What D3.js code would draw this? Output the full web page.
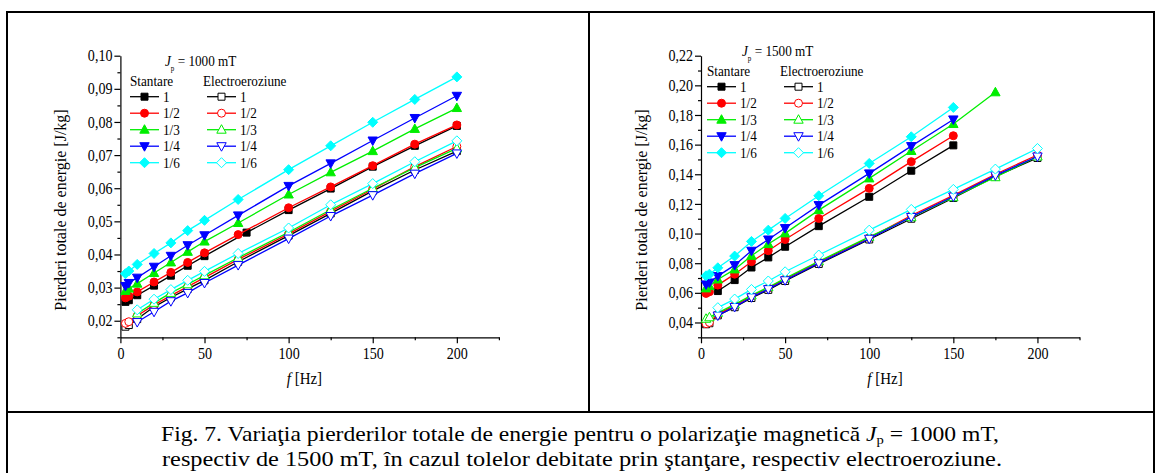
<!DOCTYPE html>
<html>
<head>
<meta charset="utf-8">
<title></title>
<style>
body { margin: 0; background: #fff; }
text { font-family: "Liberation Serif", "Times New Roman", serif; fill: #000; }
.axis path, .axis line { stroke: #000; stroke-width: 1.2px; }
.axis text { font-family: "Liberation Serif", serif; font-size: 16px; }
</style>
</head>
<body>
<script src="https://cdn.jsdelivr.net/npm/d3@7"></script>
<script>

// ---- data ----
var seriesNames = ["1", "1/2", "1/3", "1/4", "1/6"];
var seriesColors = ["#000000", "#ff0000", "#00ee00", "#0000ff", "#00ffff"];
var seriesShapes = ["square", "circle", "triangle", "triangleDown", "diamond"];

// Jp = 1000 mT
var fA = [3, 5, 10, 20, 30, 40, 50, 70, 100, 125, 150, 175, 200];
var fA75 = [3, 5, 10, 20, 30, 40, 50, 75, 100, 125, 150, 175, 200];
var fA10 = [10, 20, 30, 40, 50, 70, 100, 125, 150, 175, 200];

var st1000_1 = [0.0257, 0.0262, 0.0277, 0.0306, 0.0336, 0.0366, 0.0395, 0.0466, 0.0534, 0.0599, 0.0665, 0.0728, 0.0788];
var st1000_2 = [0.0269, 0.0274, 0.0287, 0.0317, 0.0346, 0.0376, 0.0405, 0.0460, 0.0541, 0.0604, 0.0668, 0.0733, 0.0791];
var st1000_3 = [0.0290, 0.0297, 0.0312, 0.0344, 0.0376, 0.0408, 0.0439, 0.0495, 0.0581, 0.0648, 0.0712, 0.0779, 0.0842];
var st1000_4 = [0.0305, 0.0314, 0.0330, 0.0363, 0.0396, 0.0428, 0.0458, 0.0518, 0.0607, 0.0675, 0.0744, 0.0812, 0.0879];
var st1000_6 = [0.0342, 0.0350, 0.0370, 0.0403, 0.0435, 0.0472, 0.0503, 0.0566, 0.0656, 0.0728, 0.0799, 0.0868, 0.0936];

var el1000_1 = [0.0182, 0.0187, 0.0205, 0.0242, 0.0270, 0.0296, 0.0322, 0.0378, 0.0457, 0.0524, 0.0592, 0.0655, 0.0712];
var el1000_2 = [0.0192, 0.0197, 0.0215, 0.0248, 0.0276, 0.0303, 0.0330, 0.0385, 0.0462, 0.0530, 0.0597, 0.0665, 0.0726];
var el1000_3 = [0.0222, 0.0254, 0.0284, 0.0310, 0.0337, 0.0390, 0.0467, 0.0535, 0.0600, 0.0662, 0.0720];
var el1000_4 = [0.0196, 0.0227, 0.0259, 0.0284, 0.0314, 0.0368, 0.0448, 0.0516, 0.0579, 0.0644, 0.0705];
var el1000_6 = [0.0233, 0.0265, 0.0294, 0.0322, 0.0349, 0.0403, 0.0480, 0.0550, 0.0614, 0.0680, 0.0743];

// Jp = 1500 mT
var fB = [3, 5, 10, 20, 30, 40, 50, 70, 100, 125, 150];
var fB10 = [10, 20, 30, 40, 50, 70, 100, 125, 150];
var fB175 = [3, 5, 10, 20, 30, 40, 50, 70, 100, 125, 150, 175];

var st1500_1 = [0.0612, 0.0686, 0.0771, 0.0839, 0.0911, 0.1050, 0.1248, 0.1424, 0.1595];
var st1500_2 = [0.0596, 0.0607, 0.0652, 0.0726, 0.0810, 0.0884, 0.0960, 0.1102, 0.1305, 0.1485, 0.1660];
var st1500_3 = [0.0630, 0.0645, 0.0690, 0.0758, 0.0850, 0.0929, 0.1001, 0.1158, 0.1372, 0.1557, 0.1739, 0.1953];
var st1500_4 = [0.0657, 0.0670, 0.0713, 0.0787, 0.0884, 0.0960, 0.1037, 0.1192, 0.1406, 0.1590, 0.1770];
var st1500_6 = [0.0715, 0.0726, 0.0769, 0.0848, 0.0947, 0.1023, 0.1102, 0.1255, 0.1473, 0.1653, 0.1851];

var el1500_1 = [0.0388, 0.0395, 0.0448, 0.0503, 0.0565, 0.0620, 0.0680, 0.0795, 0.0960, 0.1100, 0.1240, 0.1385, 0.1510];
var el1500_2 = [0.0392, 0.0400, 0.0455, 0.0515, 0.0578, 0.0632, 0.0693, 0.0808, 0.0972, 0.1122, 0.1258, 0.1400, 0.1530];
var el1500_3 = [0.0425, 0.0435, 0.0465, 0.0522, 0.0583, 0.0638, 0.0698, 0.0813, 0.0978, 0.1110, 0.1245, 0.1380, 0.1520];
var el1500_4 = [0.0447, 0.0505, 0.0570, 0.0625, 0.0685, 0.0800, 0.0965, 0.1112, 0.1250, 0.1393, 0.1520];
var el1500_6 = [0.0500, 0.0558, 0.0623, 0.0680, 0.0742, 0.0855, 0.1023, 0.1163, 0.1298, 0.1435, 0.1574];

var yTicksA = [0.02, 0.03, 0.04, 0.05, 0.06, 0.07, 0.08, 0.09, 0.10];
var yTicksB = [0.04, 0.06, 0.08, 0.10, 0.12, 0.14, 0.16, 0.18, 0.20, 0.22];
var xTicks = [0, 50, 100, 150, 200];

var width = 1161, height = 473;
var squeeze = 0.88; // the scanned text is a bit narrow

var svg = d3.select("body").append("svg")
    .attr("width", width)
    .attr("height", height);

// frame of the figure table
var frame = svg.append("g").attr("fill", "none").attr("stroke", "#000").attr("stroke-width", 2);
frame.append("rect").attr("x", 7).attr("y", 12).attr("width", 1147).attr("height", 462);
frame.append("line").attr("x1", 7).attr("x2", 1154).attr("y1", 412).attr("y2", 412);
frame.append("line").attr("x1", 589).attr("x2", 589).attr("y1", 12).attr("y2", 412);

// text placed with a horizontal squeeze
function label(g, x, y, size, anchor) {
  return g.append("text")
      .attr("transform", "translate(" + x + "," + y + ") scale(" + squeeze + ",1)")
      .attr("text-anchor", anchor || "start")
      .style("font-size", size + "px");
}

function markerPath(shape) {
  if (shape == "square") return "M-3.5,-3.5h7v7h-7Z";
  if (shape == "circle") return d3.symbol(d3.symbolCircle, 50)();
  if (shape == "triangle") return "M0,-5L4.7,3.5L-4.7,3.5Z";
  if (shape == "triangleDown") return "M0,5L4.7,-3.5L-4.7,-3.5Z";
  return "M0,-5L5,0L0,5L-5,0Z";
}

function drawPanel(p) {
  var g = svg.append("g");

  var x = d3.scaleLinear().domain([0, 225]).range([p.left, p.left + 378.5]);
  var y = d3.scaleLinear().domain(p.yDomain).range([337.3, 55.7]);

  // minor ticks
  g.append("g").attr("class", "axis")
      .attr("transform", "translate(0,337.3)")
      .call(d3.axisBottom(x).tickValues([25, 75, 125, 175, 225]).tickSize(3).tickFormat(""))
      .select(".domain").remove();
  g.append("g").attr("class", "axis")
      .attr("transform", "translate(" + p.left + ",0)")
      .call(d3.axisLeft(y).tickValues(p.yMinor).tickSize(3).tickFormat(""))
      .select(".domain").remove();

  // major ticks
  var xa = g.append("g").attr("class", "axis")
      .attr("transform", "translate(0,337.3)")
      .call(d3.axisBottom(x).tickValues(xTicks).tickSize(6).tickSizeOuter(0).tickPadding(4));
  var ya = g.append("g").attr("class", "axis")
      .attr("transform", "translate(" + p.left + ",0)")
      .call(d3.axisLeft(y).tickValues(p.yTicks).tickSize(6).tickSizeOuter(0).tickPadding(3)
          .tickFormat(function(d) { return d3.format(".2f")(d).replace(".", ","); }));
  xa.selectAll(".tick text").attr("transform", "scale(" + squeeze + ",1)");
  ya.selectAll(".tick text").attr("transform", "scale(" + squeeze + ",1)");

  // axis titles
  var xt = label(g, p.left + 184, 384, 17, "middle");
  xt.append("tspan").style("font-style", "italic").text("f");
  xt.append("tspan").text(" [Hz]");

  g.append("text")
      .attr("transform", "translate(" + (p.left - 54) + ",210) rotate(-90)")
      .attr("text-anchor", "middle")
      .style("font-size", "16px")
      .text("Pierderi totale de energie [J/kg]");

  var line = d3.line().x(function(d) { return x(d.f); }).y(function(d) { return y(d.v); });

  p.series.forEach(function(s) {
    var pts = s.f.map(function(f, i) { return {f: f, v: s.v[i]}; });
    var col = seriesColors[s.k];
    g.append("path")
        .datum(pts)
        .attr("d", line)
        .attr("fill", "none")
        .attr("stroke", col)
        .attr("stroke-width", 1.3);
    g.selectAll(null)
        .data(pts)
        .enter().append("path")
        .attr("transform", function(d) { return "translate(" + x(d.f) + "," + y(d.v) + ")"; })
        .attr("d", markerPath(seriesShapes[s.k]))
        .attr("fill", s.open ? "#fff" : col)
        .attr("stroke", col)
        .attr("stroke-width", 1);
  });

  // legend
  var lx = p.legX, ly = p.legY;
  var jp = label(g, lx + 35, ly - 31, 15);
  jp.append("tspan").style("font-style", "italic").text("J");
  jp.append("tspan").attr("dy", 5).style("font-size", "8px").text("p");
  jp.append("tspan").attr("dy", -5).text(" = " + p.jpText);

  label(g, lx, ly - 11, 15).text("Stantare");
  label(g, lx + 73, ly - 11, 15).text("Electroeroziune");

  [0, 1].forEach(function(open) {
    var ox = lx + open * 77;
    seriesNames.forEach(function(name, i) {
      var cy = ly + i * 16.5;
      var col = seriesColors[i];
      g.append("line")
          .attr("x1", ox).attr("x2", ox + 29)
          .attr("y1", cy).attr("y2", cy)
          .attr("stroke", col).attr("stroke-width", 1.3);
      g.append("path")
          .attr("transform", "translate(" + (ox + 14.5) + "," + cy + ")")
          .attr("d", markerPath(seriesShapes[i]))
          .attr("fill", open ? "#fff" : col)
          .attr("stroke", col)
          .attr("stroke-width", 1);
      label(g, ox + 33, cy + 5, 15).text(name);
    });
  });
}

drawPanel({
  left: 120.4,
  yDomain: [0.015, 0.10],
  yTicks: yTicksA,
  yMinor: [0.015, 0.025, 0.035, 0.045, 0.055, 0.065, 0.075, 0.085, 0.095],
  jpText: "1000 mT",
  legX: 130, legY: 96.7,
  series: [
    {k: 0, open: false, f: fA75, v: st1000_1},
    {k: 1, open: false, f: fA, v: st1000_2},
    {k: 2, open: false, f: fA, v: st1000_3},
    {k: 3, open: false, f: fA, v: st1000_4},
    {k: 4, open: false, f: fA, v: st1000_6},
    {k: 0, open: true, f: fA, v: el1000_1},
    {k: 1, open: true, f: fA, v: el1000_2},
    {k: 2, open: true, f: fA10, v: el1000_3},
    {k: 3, open: true, f: fA10, v: el1000_4},
    {k: 4, open: true, f: fA10, v: el1000_6}
  ]
});

drawPanel({
  left: 701,
  yDomain: [0.03, 0.22],
  yTicks: yTicksB,
  yMinor: [0.03, 0.05, 0.07, 0.09, 0.11, 0.13, 0.15, 0.17, 0.19, 0.21],
  jpText: "1500 mT",
  legX: 707, legY: 86.7,
  series: [
    {k: 0, open: false, f: fB10, v: st1500_1},
    {k: 1, open: false, f: fB, v: st1500_2},
    {k: 2, open: false, f: fB175, v: st1500_3},
    {k: 3, open: false, f: fB, v: st1500_4},
    {k: 4, open: false, f: fB, v: st1500_6},
    {k: 0, open: true, f: fA, v: el1500_1},
    {k: 1, open: true, f: fA, v: el1500_2},
    {k: 2, open: true, f: fA, v: el1500_3},
    {k: 3, open: true, f: fA10, v: el1500_4},
    {k: 4, open: true, f: fA10, v: el1500_6}
  ]
});

// caption
var cap1 = svg.append("text")
    .attr("x", 580).attr("y", 441)
    .attr("text-anchor", "middle")
    .attr("textLength", 838)
    .attr("lengthAdjust", "spacingAndGlyphs")
    .style("font-size", "21px");
cap1.append("tspan").text("Fig. 7. Variaţia pierderilor totale de energie pentru o polarizaţie magnetică ");
cap1.append("tspan").style("font-style", "italic").text("J");
cap1.append("tspan").attr("dy", 3).style("font-size", "13px").text("p");
cap1.append("tspan").attr("dy", -3).text(" = 1000 mT,");

svg.append("text")
    .attr("x", 582).attr("y", 466)
    .attr("text-anchor", "middle")
    .attr("textLength", 840)
    .attr("lengthAdjust", "spacingAndGlyphs")
    .style("font-size", "21px")
    .text("respectiv de 1500 mT, în cazul tolelor debitate prin ştanţare, respectiv electroeroziune.");

</script>
</body>
</html>
